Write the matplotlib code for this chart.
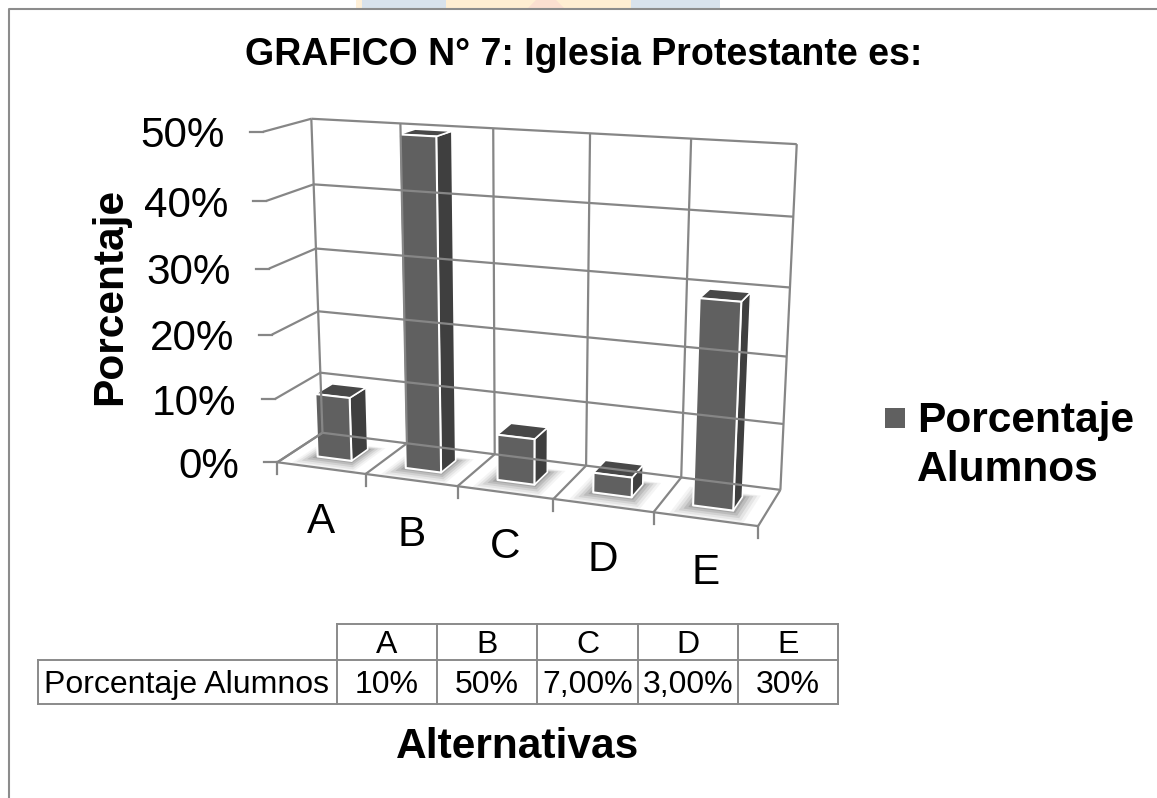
import numpy as np
import matplotlib
matplotlib.use("Agg")
import matplotlib.pyplot as plt
from matplotlib.patches import Polygon, Rectangle

plt.rcParams['font.family'] = ['Liberation Sans', 'DejaVu Sans']

categories = ["A", "B", "C", "D", "E"]
values = [10, 50, 7, 3, 30]
table_labels = ["10%", "50%", "7,00%", "3,00%", "30%"]
y_ticks = [0, 10, 20, 30, 40, 50]
series_name = "Porcentaje Alumnos"
legend_lines = ["Porcentaje", "Alumnos"]
title = "GRAFICO N° 7: Iglesia Protestante es:"
x_title = "Alternativas"
y_title = "Porcentaje"

W, H = 1157, 798
fig = plt.figure(figsize=(W / 100, H / 100), dpi=100, facecolor="white")
ax = fig.add_axes([0, 0, 1, 1])
ax.set_xlim(0, W)
ax.set_ylim(H, 0)
ax.axis("off")

# camera fit: world (category, depth, value) -> figure pixel
refs = [
    ((0, 0, 0), (277, 463)), ((1, 0, 0), (365, 475)), ((2, 0, 0), (457, 487)),
    ((3, 0, 0), (553, 500)), ((4, 0, 0), (653, 512)), ((5, 0, 0), (758, 526)),
    ((0, 1, 0), (323, 433)), ((5, 1, 0), (781, 489)),
    ((0, 0, 10), (276, 398)), ((0, 0, 20), (273, 334)), ((0, 0, 30), (270, 268)),
    ((0, 0, 40), (266, 200)), ((0, 0, 50), (262, 132)),
    ((0, 1, 10), (320, 373)), ((0, 1, 20), (318, 311)), ((0, 1, 30), (316, 248)),
    ((0, 1, 40), (313, 184)), ((0, 1, 50), (311, 119)),
    ((5, 1, 10), (783, 423)), ((5, 1, 20), (787, 357)), ((5, 1, 30), (790, 287)),
    ((5, 1, 50), (797, 144)),
    ((1, 1, 50), (400, 124)), ((2, 1, 50), (493, 129)), ((3, 1, 50), (590, 134)), ((4, 1, 50), (692, 139)),
]
A = []
b = []
for (X, Y, Z), (u, v) in refs:
    A.append([X, Y, Z, 1, 0, 0, 0, 0, -u * X, -u * Y, -u * Z])
    b.append(u)
    A.append([0, 0, 0, 0, X, Y, Z, 1, -v * X, -v * Y, -v * Z])
    b.append(v)
P = np.linalg.lstsq(np.array(A, float), np.array(b, float), rcond=None)[0]
P = np.append(P, 1.0).reshape(3, 4)


def proj(x, d, v):
    h = P @ np.array([x, d, v, 1.0])
    return h[0] / h[2], h[1] / h[2]


GRID = "#868686"
LW = 1.6


def line3(a, c, **kw):
    pa, pc = proj(*a), proj(*c)
    ax.plot([pa[0], pc[0]], [pa[1], pc[1]], color=GRID, lw=LW, solid_capstyle="butt", **kw)


# page behind the chart and frame
for x0, x1, col in [(356, 362, "#fff0d8"), (362, 446, "#d8e2ec"), (446, 631, "#ffeed2"), (631, 720, "#d8e2ec")]:
    ax.add_patch(Rectangle((x0, 0), x1 - x0, 8, fc=col, ec="none"))
ax.add_patch(Polygon([(528, 8), (536, 0), (556, 0), (564, 8)], fc="#fbdfd0", ec="none"))
ax.plot([8.5, 8.5, W], [H, 9, 9], color="#8c8c8c", lw=1.5)

n = len(categories)
vmax = y_ticks[-1]
# walls and floor
for t in y_ticks:
    line3((0, 0, t), (0, 1, t))
    line3((0, 1, t), (n, 1, t))
    p = proj(0, 0, t)
    ax.plot([p[0] - 13, p[0]], [p[1], p[1]], color=GRID, lw=LW)
    ax.text(p[0] - 38, p[1] + 15.5, f"{t}%", ha="right", va="baseline", fontsize=30.4, color="black")
for i in range(n + 1):
    line3((i, 1, 0), (i, 1, vmax))
    line3((i, 0, 0), (i, 1, 0))
    p = proj(i, 0, 0)
    ax.plot([p[0], p[0]], [p[1], p[1] + 12], color=GRID, lw=LW)
line3((0, 0, 0), (n, 0, 0))

# bars
x_pad, d0, d1 = 0.305, 0.30, 0.68
FRONT, SIDE, TOP = "#606060", "#3f3f3f", "#484848"
for i, val in enumerate(values):
    x0, x1 = i + x_pad, i + 1 - x_pad
    for e, a in [(1.0, 0.05), (0.8, 0.08), (0.6, 0.11), (0.4, 0.14), (0.2, 0.18)]:
        ax.add_patch(Polygon([proj(x0 - e * .16, d0 - e * .28, 0), proj(x1 + e * .16, d0 - e * .28, 0),
                              proj(x1 + e * .16, d1 + e * .1, 0), proj(x0 - e * .16, d1 + e * .1, 0)],
                             fc="#3a3a3a", ec="none", alpha=a))
    side = [proj(x1, d0, 0), proj(x1, d1, 0), proj(x1, d1, val), proj(x1, d0, val)]
    top = [proj(x0, d0, val), proj(x1, d0, val), proj(x1, d1, val), proj(x0, d1, val)]
    front = [proj(x0, d0, 0), proj(x1, d0, 0), proj(x1, d0, val), proj(x0, d0, val)]
    ax.add_patch(Polygon(side, fc=SIDE, ec="white", lw=1.2, joinstyle="round"))
    ax.add_patch(Polygon(top, fc=TOP, ec="white", lw=1.2, joinstyle="round"))
    ax.add_patch(Polygon(front, fc=FRONT, ec="white", lw=1.5, joinstyle="round"))

# category labels
cat_pos = [(320.5, 533), (411.5, 546), (505, 558), (603, 571), (705.5, 584)]
for lab, (x, y) in zip(categories, cat_pos):
    ax.text(x, y, lab, ha="center", va="baseline", fontsize=30.4, color="black")

# data table
col_edges = [337, 437, 537, 638, 738, 838]
row_y = [624, 660, 704]
TC = "#8a8a8a"
TLW = 1.4
ax.plot([337, 838], [row_y[0]] * 2, color=TC, lw=TLW)
ax.plot([38, 838], [row_y[1]] * 2, color=TC, lw=TLW)
ax.plot([38, 838], [row_y[2]] * 2, color=TC, lw=TLW)
ax.plot([38, 38], row_y[1:], color=TC, lw=TLW)
for x in col_edges:
    ax.plot([x, x], [row_y[0], row_y[2]], color=TC, lw=TLW)
for i, (c, t) in enumerate(zip(categories, table_labels)):
    xc = (col_edges[i] + col_edges[i + 1]) / 2
    ax.text(xc, 653, c, ha="center", va="baseline", fontsize=23)
    ax.text(xc, 693, t, ha="center", va="baseline", fontsize=23)
ax.text(187, 693, series_name, ha="center", va="baseline", fontsize=23)

# titles
ax.text(584, 65, title, ha="center", va="baseline", fontsize=27, fontweight="bold")
ax.text(517.5, 758, x_title, ha="center", va="baseline", fontsize=30.6, fontweight="bold")
ax.text(110, 296, y_title, ha="center", va="center", rotation=90, fontsize=30.6, fontweight="bold")

# legend
ax.add_patch(Rectangle((885, 408), 20, 20, fc=FRONT, ec="none"))
for line, y in zip(legend_lines, [432, 481]):
    ax.text(917, y, line, ha="left", va="baseline", fontsize=30.6, fontweight="bold")

fig.savefig("out.png", dpi=100)
